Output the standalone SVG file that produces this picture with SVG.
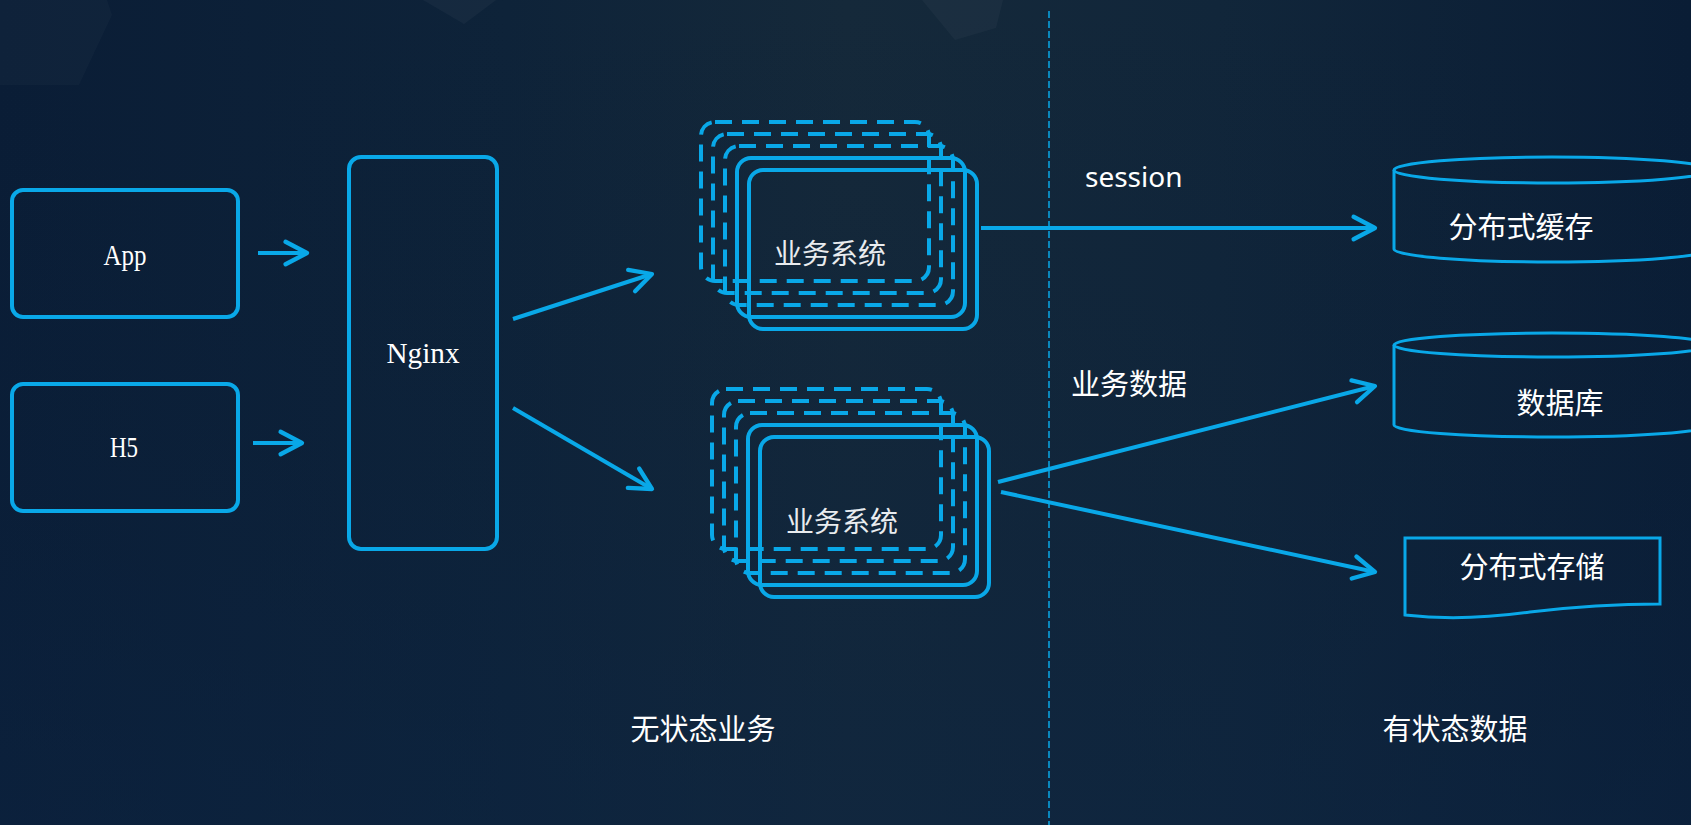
<svg xmlns="http://www.w3.org/2000/svg" width="1691" height="825" viewBox="0 0 1691 825">
  <defs>
    <linearGradient id="bgH" x1="0" y1="0" x2="1" y2="0">
      <stop offset="0" stop-color="#0a1d36"/>
      <stop offset="0.3" stop-color="#0e2339"/>
      <stop offset="0.5" stop-color="#15293a"/>
      <stop offset="0.72" stop-color="#11263a"/>
      <stop offset="1" stop-color="#0a1d35"/>
    </linearGradient>
    <linearGradient id="bgV" x1="0" y1="0" x2="0" y2="1">
      <stop offset="0" stop-color="#0b1e36" stop-opacity="0"/>
      <stop offset="1" stop-color="#0c2442" stop-opacity="0.5"/>
    </linearGradient>
    <marker id="ah" markerUnits="userSpaceOnUse" markerWidth="30" markerHeight="30" viewBox="-24 -14 28 28" refX="0" refY="0" orient="auto" overflow="visible">
      <path d="M-20,-10.5 L0,0 L-20,10.5" fill="none" stroke="#09a8e8" stroke-width="4" stroke-linecap="round" stroke-linejoin="round"/>
    </marker>
    <style>
      .box { fill: none; stroke: #09a8e8; stroke-width: 4; }
      .dash { fill: none; stroke: #09a8e8; stroke-width: 4; stroke-dasharray: 17 10; }
      .db { fill: none; stroke: #09a8e8; stroke-width: 3; }
      .conn { fill: none; stroke: #09a8e8; stroke-width: 4; marker-end: url(#ah); }
      .mono { font-family: "Liberation Serif", "DejaVu Serif", serif; font-size: 30px; fill: #ffffff; text-anchor: middle; }
      .cjk { font-family: "Noto Sans CJK SC", "Noto Sans", sans-serif; font-size: 29px; fill: #ffffff; text-anchor: middle; }
      .biz { font-family: "Noto Sans CJK SC", "Noto Sans", sans-serif; font-size: 28px; fill: #e9ecef; text-anchor: middle; }
    </style>
  </defs>

  <!-- background -->
  <rect x="0" y="0" width="1691" height="825" fill="url(#bgH)"/>
  <rect x="0" y="0" width="1691" height="825" fill="url(#bgV)"/>
  <polygon points="0,0 107,0 112,15 79,85 0,85" fill="#ffffff" fill-opacity="0.025"/>
  <polygon points="423,0 496,0 464,24" fill="#ffffff" fill-opacity="0.035"/>
  <polygon points="922,0 1003,0 996,28 955,40" fill="#ffffff" fill-opacity="0.03"/>

  <!-- divider -->
  <line x1="1049" y1="11" x2="1049" y2="825" stroke="#09a8e8" stroke-width="1.5" stroke-dasharray="7 3"/>

  <g id="app">
    <rect class="box" x="12" y="190" width="226" height="127" rx="11"/>
    <text class="mono" x="125" y="265" textLength="43" lengthAdjust="spacingAndGlyphs">App</text>
  </g>
  <g id="h5">
    <rect class="box" x="12" y="384" width="226" height="127" rx="11"/>
    <text class="mono" x="124" y="457" textLength="28" lengthAdjust="spacingAndGlyphs">H5</text>
  </g>
  <g id="nginx">
    <rect class="box" x="349" y="157" width="148" height="392" rx="12"/>
    <text class="mono" x="423" y="363" textLength="73" lengthAdjust="spacingAndGlyphs">Nginx</text>
  </g>

  <g id="biz-top">
    <rect class="dash" x="701" y="122" width="228" height="159" rx="14"/>
    <rect class="dash" x="713" y="134" width="228" height="159" rx="14"/>
    <rect class="dash" x="725" y="146" width="228" height="159" rx="14"/>
    <rect class="box" x="737" y="158" width="228" height="159" rx="14"/>
    <rect class="box" x="749" y="170" width="228" height="159" rx="14"/>
    <text class="biz" x="830" y="264">业务系统</text>
  </g>
  <g id="biz-bottom">
    <rect class="dash" x="712" y="389" width="229" height="160" rx="14"/>
    <rect class="dash" x="724" y="401" width="229" height="160" rx="14"/>
    <rect class="dash" x="736" y="413" width="229" height="160" rx="14"/>
    <rect class="box" x="748" y="425" width="229" height="160" rx="14"/>
    <rect class="box" x="760" y="437" width="229" height="160" rx="14"/>
    <text class="biz" x="842" y="532">业务系统</text>
  </g>

  <g id="cache">
    <path class="db" d="M1394,170 V249 A158,13 0 0 0 1710,249 V170"/>
    <ellipse class="db" cx="1552" cy="170" rx="158" ry="13"/>
    <text class="cjk" x="1521" y="238">分布式缓存</text>
  </g>
  <g id="database">
    <path class="db" d="M1394,345 V425 A158,12 0 0 0 1710,425 V345"/>
    <ellipse class="db" cx="1552" cy="345" rx="158" ry="12"/>
    <text class="cjk" x="1560" y="414">数据库</text>
  </g>
  <g id="storage">
    <path class="db" d="M1405,538 H1660 V604 C1620,604 1580,606 1530,612 C1480,619 1440,619 1405,615 Z"/>
    <text class="cjk" x="1532" y="578">分布式存储</text>
  </g>

  <g id="connectors">
    <line class="conn" x1="258" y1="253" x2="307" y2="253"/>
    <line class="conn" x1="253" y1="443" x2="302" y2="443"/>
    <line class="conn" x1="513" y1="319" x2="652" y2="274"/>
    <line class="conn" x1="513" y1="408" x2="652" y2="489"/>
    <line class="conn" x1="981" y1="228" x2="1375" y2="228"/>
    <line class="conn" x1="998" y1="482" x2="1375" y2="386"/>
    <line class="conn" x1="1001" y1="492" x2="1375" y2="572"/>
  </g>

  <g id="labels">
    <text x="1085" y="187" font-family="Noto Sans, sans-serif" font-size="28" fill="#ffffff">session</text>
    <text class="cjk" x="1129" y="395">业务数据</text>
    <text class="cjk" x="703" y="740">无状态业务</text>
    <text class="cjk" x="1455" y="740">有状态数据</text>
  </g>
</svg>
